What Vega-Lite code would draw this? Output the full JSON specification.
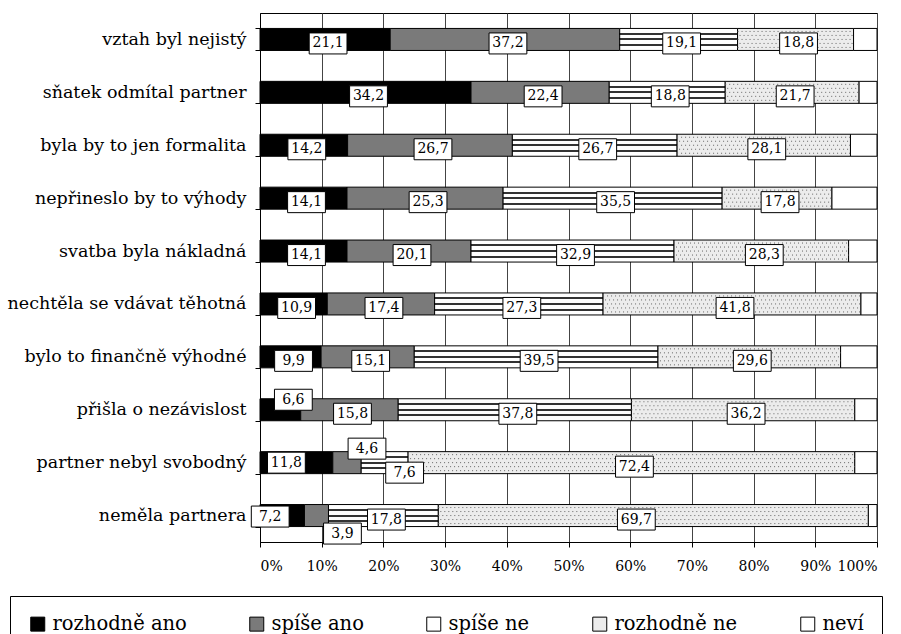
{
  "$schema": "https://vega.github.io/schema/vega-lite/v6.json",
  "width": 617,
  "height": 529,
  "autosize": {"type": "none"},
  "padding": {"left": 260, "top": 13, "right": 24, "bottom": 92},
  "background": "white",
  "config": {"view": {"stroke": "black", "strokeWidth": 1}, "font": "DejaVu Serif"},
  "data": {"values": [
    {"cat": "vztah byl nejistý", "s": "rozhodně ano", "v": 21.1},
    {"cat": "vztah byl nejistý", "s": "spíše ano", "v": 37.2},
    {"cat": "vztah byl nejistý", "s": "spíše ne", "v": 19.1},
    {"cat": "vztah byl nejistý", "s": "rozhodně ne", "v": 18.8},
    {"cat": "vztah byl nejistý", "s": "neví", "v": 3.8},
    {"cat": "sňatek odmítal partner", "s": "rozhodně ano", "v": 34.2},
    {"cat": "sňatek odmítal partner", "s": "spíše ano", "v": 22.4},
    {"cat": "sňatek odmítal partner", "s": "spíše ne", "v": 18.8},
    {"cat": "sňatek odmítal partner", "s": "rozhodně ne", "v": 21.7},
    {"cat": "sňatek odmítal partner", "s": "neví", "v": 2.9},
    {"cat": "byla by to jen formalita", "s": "rozhodně ano", "v": 14.2},
    {"cat": "byla by to jen formalita", "s": "spíše ano", "v": 26.7},
    {"cat": "byla by to jen formalita", "s": "spíše ne", "v": 26.7},
    {"cat": "byla by to jen formalita", "s": "rozhodně ne", "v": 28.1},
    {"cat": "byla by to jen formalita", "s": "neví", "v": 4.3},
    {"cat": "nepřineslo by to výhody", "s": "rozhodně ano", "v": 14.1},
    {"cat": "nepřineslo by to výhody", "s": "spíše ano", "v": 25.3},
    {"cat": "nepřineslo by to výhody", "s": "spíše ne", "v": 35.5},
    {"cat": "nepřineslo by to výhody", "s": "rozhodně ne", "v": 17.8},
    {"cat": "nepřineslo by to výhody", "s": "neví", "v": 7.3},
    {"cat": "svatba byla nákladná", "s": "rozhodně ano", "v": 14.1},
    {"cat": "svatba byla nákladná", "s": "spíše ano", "v": 20.1},
    {"cat": "svatba byla nákladná", "s": "spíše ne", "v": 32.9},
    {"cat": "svatba byla nákladná", "s": "rozhodně ne", "v": 28.3},
    {"cat": "svatba byla nákladná", "s": "neví", "v": 4.6},
    {"cat": "nechtěla se vdávat těhotná", "s": "rozhodně ano", "v": 10.9},
    {"cat": "nechtěla se vdávat těhotná", "s": "spíše ano", "v": 17.4},
    {"cat": "nechtěla se vdávat těhotná", "s": "spíše ne", "v": 27.3},
    {"cat": "nechtěla se vdávat těhotná", "s": "rozhodně ne", "v": 41.8},
    {"cat": "nechtěla se vdávat těhotná", "s": "neví", "v": 2.6},
    {"cat": "bylo to finančně výhodné", "s": "rozhodně ano", "v": 9.9},
    {"cat": "bylo to finančně výhodné", "s": "spíše ano", "v": 15.1},
    {"cat": "bylo to finančně výhodné", "s": "spíše ne", "v": 39.5},
    {"cat": "bylo to finančně výhodné", "s": "rozhodně ne", "v": 29.6},
    {"cat": "bylo to finančně výhodné", "s": "neví", "v": 5.9},
    {"cat": "přišla o nezávislost", "s": "rozhodně ano", "v": 6.6},
    {"cat": "přišla o nezávislost", "s": "spíše ano", "v": 15.8},
    {"cat": "přišla o nezávislost", "s": "spíše ne", "v": 37.8},
    {"cat": "přišla o nezávislost", "s": "rozhodně ne", "v": 36.2},
    {"cat": "přišla o nezávislost", "s": "neví", "v": 3.6},
    {"cat": "partner nebyl svobodný", "s": "rozhodně ano", "v": 11.8},
    {"cat": "partner nebyl svobodný", "s": "spíše ano", "v": 4.6},
    {"cat": "partner nebyl svobodný", "s": "spíše ne", "v": 7.6},
    {"cat": "partner nebyl svobodný", "s": "rozhodně ne", "v": 72.4},
    {"cat": "partner nebyl svobodný", "s": "neví", "v": 3.6},
    {"cat": "neměla partnera", "s": "rozhodně ano", "v": 7.2},
    {"cat": "neměla partnera", "s": "spíše ano", "v": 3.9},
    {"cat": "neměla partnera", "s": "spíše ne", "v": 17.8},
    {"cat": "neměla partnera", "s": "rozhodně ne", "v": 69.7},
    {"cat": "neměla partnera", "s": "neví", "v": 1.4}
  ]},
  "transform": [
    {"calculate": "indexof(['rozhodně ano','spíše ano','spíše ne','rozhodně ne','neví'], datum.s)", "as": "si"},
    {"stack": "v", "groupby": ["cat"], "sort": [{"field": "si", "order": "ascending"}], "as": ["x0", "x1"]},
    {"calculate": "(datum.x0 + datum.x1) / 2", "as": "mid"},
    {"calculate": "replace(format(datum.v, '.1f'), '.', ',')", "as": "lab"},
    {"calculate": "indexof(['vztah byl nejistý','sňatek odmítal partner','byla by to jen formalita','nepřineslo by to výhody','svatba byla nákladná','nechtěla se vdávat těhotná','bylo to finančně výhodné','přišla o nezávislost','partner nebyl svobodný','neměla partnera'], datum.cat)", "as": "ci"},
    {"calculate": "datum.lab === '6,6' ? 13 : datum.lab === '11,8' ? -10 : datum.lab === '4,6' ? 20 : datum.lab === '7,6' ? 20 : datum.lab === '7,2' ? -12 : datum.lab === '3,9' ? 26 : datum.lab === '69,7' ? -17 : 3", "as": "ddx"},
    {"calculate": "datum.lab === '6,6' ? -10 : datum.lab === '11,8' ? 0 : datum.lab === '4,6' ? -14 : datum.lab === '7,6' ? 10 : datum.lab === '7,2' ? 1 : datum.lab === '3,9' ? 18 : 4", "as": "ddy"},
    {"calculate": "datum.mid + datum.ddx / 6.17", "as": "lx"},
    {"calculate": "datum.ci + 0.5 + datum.ddy / 52.9", "as": "ly"}
  ],
  "layer": [
    {
      "layer": [
        {
          "mark": {"type": "bar", "stroke": "black", "strokeWidth": 1},
          "encoding": {
            "x": {
              "field": "x0", "type": "quantitative",
              "scale": {"domain": [0, 100], "nice": false},
              "axis": {"title": null, "values": [0,10,20,30,40,50,60,70,80,90,100], "labelExpr": "datum.value + '%'", "grid": true, "gridColor": "#444444", "gridOpacity": 1, "tickColor": "black", "domainColor": "black", "labelFont": "DejaVu Serif", "labelFontSize": 14, "labelColor": "black", "tickSize": 5, "labelPadding": 12}
            },
            "x2": {"field": "x1"},
            "fill": {
              "condition": {"test": "datum.s === 'spíše ne'", "value": {"gradient": "linear", "x1": 0, "y1": 0, "x2": 0, "y2": 1, "stops": [
                {"offset": 0, "color": "white"}, {"offset": 0.2, "color": "white"}, {"offset": 0.2, "color": "#333333"}, {"offset": 0.29, "color": "#333333"}, {"offset": 0.29, "color": "white"},
                {"offset": 0.455, "color": "white"}, {"offset": 0.455, "color": "#333333"}, {"offset": 0.545, "color": "#333333"}, {"offset": 0.545, "color": "white"},
                {"offset": 0.71, "color": "white"}, {"offset": 0.71, "color": "#333333"}, {"offset": 0.8, "color": "#333333"}, {"offset": 0.8, "color": "white"}, {"offset": 1, "color": "white"}]}},
              "field": "s", "type": "nominal",
              "sort": ["rozhodně ano","spíše ano","spíše ne","rozhodně ne","neví"],
              "scale": {"domain": ["rozhodně ano","spíše ano","spíše ne","rozhodně ne","neví"], "range": ["#000000","#7a7a7a","#ffffff","#ececec","#ffffff"]},
              "legend": {
                "title": null, "orient": "none", "legendX": -250, "legendY": 583, "direction": "horizontal",
                "symbolType": "square", "symbolSize": 196, "symbolStrokeColor": "black", "symbolStrokeWidth": 1, "symbolOpacity": 1,
                "labelFont": "DejaVu Serif", "labelFontSize": 19.5, "labelColor": "black", "labelOffset": 5, "labelLimit": 300,
                "columnPadding": 60, "strokeColor": "black", "padding": 18
              }
            }
          }
        },
        {
          "transform": [{"filter": "datum.s === 'rozhodně ne'"}],
          "mark": {"type": "rule", "stroke": "#666666", "strokeWidth": 1, "strokeDash": [1, 3], "yOffset": -8},
          "encoding": {"x": {"field": "x0", "type": "quantitative"}, "x2": {"field": "x1"}}
        },
        {
          "transform": [{"filter": "datum.s === 'rozhodně ne'"}],
          "mark": {"type": "rule", "stroke": "#666666", "strokeWidth": 1, "strokeDash": [1, 3], "strokeDashOffset": 2, "yOffset": -4},
          "encoding": {"x": {"field": "x0", "type": "quantitative"}, "x2": {"field": "x1"}}
        },
        {
          "transform": [{"filter": "datum.s === 'rozhodně ne'"}],
          "mark": {"type": "rule", "stroke": "#666666", "strokeWidth": 1, "strokeDash": [1, 3], "yOffset": 0},
          "encoding": {"x": {"field": "x0", "type": "quantitative"}, "x2": {"field": "x1"}}
        },
        {
          "transform": [{"filter": "datum.s === 'rozhodně ne'"}],
          "mark": {"type": "rule", "stroke": "#666666", "strokeWidth": 1, "strokeDash": [1, 3], "strokeDashOffset": 2, "yOffset": 4},
          "encoding": {"x": {"field": "x0", "type": "quantitative"}, "x2": {"field": "x1"}}
        },
        {
          "transform": [{"filter": "datum.s === 'rozhodně ne'"}],
          "mark": {"type": "rule", "stroke": "#666666", "strokeWidth": 1, "strokeDash": [1, 3], "yOffset": 8},
          "encoding": {"x": {"field": "x0", "type": "quantitative"}, "x2": {"field": "x1"}}
        }
      ],
      "encoding": {
        "y": {
          "field": "cat", "type": "nominal",
          "sort": ["vztah byl nejistý","sňatek odmítal partner","byla by to jen formalita","nepřineslo by to výhody","svatba byla nákladná","nechtěla se vdávat těhotná","bylo to finančně výhodné","přišla o nezávislost","partner nebyl svobodný","neměla partnera"],
          "scale": {"paddingInner": 0.584, "paddingOuter": 0.292},
          "axis": {"title": null, "tickBand": "extent", "labelFont": "DejaVu Serif", "labelFontSize": 17.5, "labelColor": "black", "labelPadding": 9, "tickColor": "black", "domainColor": "black", "tickSize": 5, "labelLimit": 300}
        }
      }
    },
    {
      "transform": [{"filter": "datum.s !== 'neví'"}],
      "mark": {"type": "point", "shape": "M-1.8,-1H1.8V1H-1.8Z", "size": 441, "filled": true, "fill": "white", "stroke": "black", "strokeWidth": 1, "opacity": 1},
      "encoding": {
        "x": {"field": "lx", "type": "quantitative"},
        "y": {"field": "ly", "type": "quantitative", "scale": {"domain": [0, 10], "reverse": true, "nice": false, "zero": false}, "axis": null}
      }
    },
    {
      "transform": [{"filter": "datum.s !== 'neví'"}],
      "mark": {"type": "text", "font": "DejaVu Serif", "fontSize": 14, "baseline": "middle", "align": "center", "color": "black"},
      "encoding": {
        "x": {"field": "lx", "type": "quantitative"},
        "y": {"field": "ly", "type": "quantitative", "scale": {"domain": [0, 10], "reverse": true, "nice": false, "zero": false}, "axis": null},
        "text": {"field": "lab"}
      }
    }
  ],
  "resolve": {"scale": {"y": "independent"}}
}
